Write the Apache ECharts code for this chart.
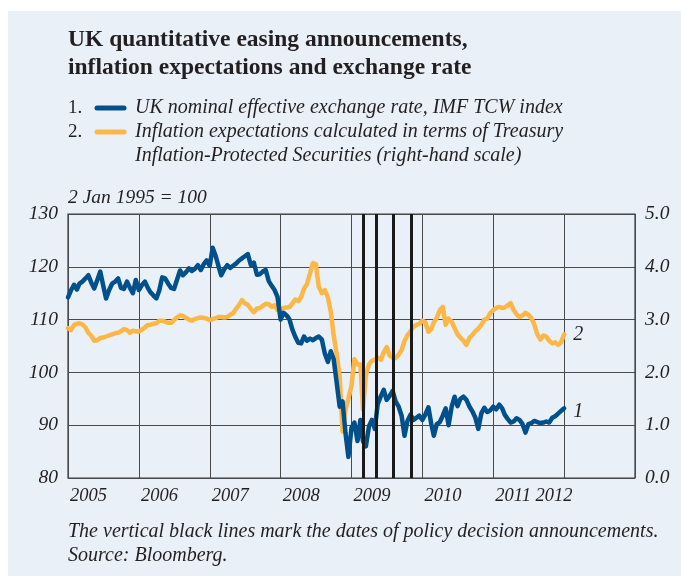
<!DOCTYPE html>
<html>
<head>
<meta charset="utf-8">
<script src="https://cdn.jsdelivr.net/npm/echarts@6/dist/echarts.min.js"></script>
<style>
  html, body { margin: 0; padding: 0; background: #ffffff; }
  #chart { width: 681px; height: 576px; }
</style>
</head>
<body>
<div id="chart"></div>
<script>
// Half-monthly observations starting 1 Jan 2005 (1st and 16th of each month)
const startYear = 2005;

// UK nominal effective exchange rate, IMF TCW index (2 Jan 1995 = 100)
const ukEER = [
  114.2, 115.5, 116.6, 115.7, 116.8, 117.2, 117.8, 118.4, 117.0, 115.9, 117.5, 119.1,
  116.5, 114.0, 115.6, 116.8, 117.2, 117.8, 116.0, 115.8, 117.2, 116.0, 115.0, 117.5,
  115.6, 116.5, 117.2, 116.0, 115.2, 114.6, 114.0, 115.5, 118.0, 117.8, 116.8, 116.0,
  115.8, 117.5, 119.3, 118.4, 119.0, 119.7, 119.2, 119.6, 120.3, 119.4, 120.5, 121.2,
  120.2, 123.6, 122.0, 120.0, 118.4, 119.5, 120.3, 119.8, 120.2, 120.6, 121.2, 121.6,
  122.0, 122.4, 120.3, 120.8, 118.5, 118.6, 119.1, 119.4, 117.3, 116.4, 115.6, 114.3,
  110.0, 111.3, 110.8, 110.0, 108.2, 106.8, 105.6, 105.5, 106.8, 106.0, 106.4, 106.1,
  106.5, 106.8, 106.2, 103.6, 102.0, 104.0, 102.5, 98.2, 93.5, 94.5, 88.5, 84.0,
  89.5, 90.5, 87.0, 91.0, 87.0, 86.0, 89.8, 91.0, 89.3, 94.0, 95.5, 96.7,
  94.8, 95.5, 96.5, 94.5, 93.5, 91.8, 88.0, 90.8, 92.0, 91.0, 91.4, 91.8,
  91.0, 92.0, 93.4, 90.2, 88.0, 90.2, 90.6, 91.8, 93.2, 90.0, 93.5, 95.4,
  93.6, 95.0, 95.4, 94.8, 93.5, 92.6, 91.4, 89.3, 92.3, 93.3, 92.5, 92.8,
  93.5, 93.0, 93.9, 93.2, 92.0, 91.2, 90.5, 90.7, 91.3, 91.0, 90.2, 88.6,
  90.2, 90.4, 90.8, 90.6, 90.4, 90.5, 90.7, 90.5, 91.4, 91.7, 92.2, 92.7,
  93.2
];

// Inflation expectations from Treasury Inflation-Protected Securities (per cent)
const tipsInflation = [
  2.84, 2.80, 2.90, 2.92, 2.93, 2.91, 2.85, 2.75, 2.69, 2.60, 2.61, 2.65,
  2.66, 2.68, 2.70, 2.72, 2.74, 2.75, 2.78, 2.82, 2.80, 2.75, 2.79, 2.78,
  2.77, 2.81, 2.85, 2.90, 2.90, 2.92, 2.93, 2.98, 2.98, 2.96, 2.94, 2.94,
  2.99, 3.04, 3.08, 3.07, 3.03, 3.00, 2.98, 3.01, 3.03, 3.04, 3.03, 3.02,
  2.99, 3.01, 3.03, 3.05, 3.05, 3.04, 3.05, 3.09, 3.12, 3.20, 3.28, 3.37,
  3.31, 3.28, 3.20, 3.14, 3.21, 3.22, 3.26, 3.30, 3.29, 3.24, 3.27, 3.18,
  3.21, 3.22, 3.23, 3.24, 3.30, 3.38, 3.35, 3.43, 3.59, 3.67, 3.88, 4.07,
  4.05, 3.62, 3.50, 3.56, 3.42, 3.15, 2.70, 2.36, 1.92, 0.88, 1.30, 1.50,
  1.75, 2.25, 2.15, 2.15, 1.30, 1.95, 2.15, 2.22, 2.24, 2.28, 2.24, 2.38,
  2.48, 2.32, 2.28, 2.27, 2.34, 2.42, 2.60, 2.70, 2.78, 2.86, 2.90, 2.92,
  2.98, 2.95, 2.77, 2.82, 2.95, 3.03, 3.18, 3.24, 2.90, 3.02, 2.96, 2.84,
  2.72, 2.66, 2.60, 2.52, 2.66, 2.71, 2.78, 2.83, 2.90, 3.00, 3.02, 3.12,
  3.18, 3.22, 3.24, 3.22, 3.23, 3.27, 3.31, 3.18, 3.10, 3.05, 3.08, 3.13,
  3.09, 3.03, 2.90, 2.72, 2.62, 2.70, 2.68, 2.60, 2.55, 2.57, 2.52, 2.57,
  2.72
];

// Bank of England policy decision announcements
const announcements = ['2009-03-05', '2009-05-07', '2009-08-06', '2009-11-05'];

// Year ticks on the horizontal axis
const yearTicks = [2005, 2006, 2007, 2008, 2009, 2010, 2011, 2012, 2013];
const leftTicks = [80, 90, 100, 110, 120, 130];
const rightTicks = [0, 1, 2, 3, 4, 5];

const BLUE = '#00508c';
const ORANGE = '#fdb747';
const INK = '#231f20';
const PANEL = '#e9f0f7';
const SERIF = '"Liberation Serif", "DejaVu Serif", serif';

function pad(n) { return n < 10 ? '0' + n : '' + n; }

// Observation dates: 1st and 16th of each month
const dates = ukEER.map((_, k) => {
  const y = startYear + Math.floor(k / 24);
  const m = Math.floor((k % 24) / 2) + 1;
  return y + '-' + pad(m) + '-' + (k % 2 ? '16' : '01');
});

// Date string -> fractional year
function toYear(s) {
  const [y, m, d] = s.split('-').map(Number);
  const start = Date.UTC(y, 0, 1), end = Date.UTC(y + 1, 0, 1);
  return y + (Date.UTC(y, m - 1, d) - start) / (end - start);
}

const eerData = dates.map((d, i) => [toYear(d), ukEER[i]]);
const tipsData = dates.map((d, i) => [toYear(d), tipsInflation[i]]);

const chart = echarts.init(document.getElementById('chart'), null, { renderer: 'canvas' });

function txt(x, y, text, opts) {
  return {
    type: 'text', x: x, y: y, silent: true,
    style: Object.assign({
      text: text, fill: INK, fontFamily: SERIF, fontSize: 20, fontStyle: 'italic',
      align: 'left', verticalAlign: 'middle'
    }, opts || {})
  };
}

const axisFont = { color: INK, fontFamily: SERIF, fontStyle: 'italic', fontSize: 19.5 };

const option = {
  animation: false,
  backgroundColor: '#ffffff',
  graphic: [
    { type: 'rect', z: -10, silent: true, shape: { x: 8, y: 11, width: 673, height: 565 }, style: { fill: PANEL } },
    txt(68, 40, 'UK quantitative easing announcements,', { fontStyle: 'normal', fontWeight: 'bold', fontSize: 23.5 }),
    txt(68, 68, 'inflation expectations and exchange rate', { fontStyle: 'normal', fontWeight: 'bold', fontSize: 23.5 }),
    txt(68, 108, '1.', { fontStyle: 'normal', fontSize: 19 }),
    { type: 'line', silent: true, shape: { x1: 97, y1: 108, x2: 124, y2: 108 }, style: { stroke: BLUE, lineWidth: 5, lineCap: 'round' } },
    txt(135, 108, 'UK nominal effective exchange rate, IMF TCW index'),
    txt(68, 132, '2.', { fontStyle: 'normal', fontSize: 19 }),
    { type: 'line', silent: true, shape: { x1: 97, y1: 132, x2: 124, y2: 132 }, style: { stroke: ORANGE, lineWidth: 5, lineCap: 'round' } },
    txt(135, 132, 'Inflation expectations calculated in terms of Treasury'),
    txt(135, 156, 'Inflation-Protected Securities (right-hand scale)'),
    txt(68, 198, '2 Jan 1995 = 100', { fontSize: 19.5 }),
    txt(68, 532, 'The vertical black lines mark the dates of policy decision announcements.'),
    txt(68, 556, 'Source: Bloomberg.')
  ],
  grid: {
    left: 68, top: 214, width: 567, height: 264,
    show: true, borderColor: '#3a3a3a', borderWidth: 1.2, backgroundColor: 'transparent'
  },
  xAxis: {
    type: 'value', min: yearTicks[0], max: yearTicks[yearTicks.length - 1], interval: 1,
    axisLine: { show: false }, axisTick: { show: false },
    splitLine: { show: true, lineStyle: { color: '#4a4a4a', width: 1 } },
    axisLabel: Object.assign({
      align: 'left', margin: 9, padding: [0, 0, 0, 2], fontSize: 18.5,
      formatter: v => v === 2011 ? '2011 2012' : (v <= 2010 ? String(v) : '')
    }, { color: INK, fontFamily: SERIF, fontStyle: 'italic' })
  },
  yAxis: [
    {
      type: 'value', min: leftTicks[0], max: leftTicks[leftTicks.length - 1], interval: 10,
      axisLine: { show: false }, axisTick: { show: false },
      splitLine: { show: true, lineStyle: { color: '#4a4a4a', width: 1 } },
      axisLabel: Object.assign({ margin: 10 }, axisFont)
    },
    {
      type: 'value', min: rightTicks[0], max: rightTicks[rightTicks.length - 1], interval: 1,
      axisLine: { show: false }, axisTick: { show: false }, splitLine: { show: false },
      axisLabel: Object.assign({ margin: 10, formatter: v => v.toFixed(1) }, axisFont)
    }
  ],
  series: [
    {
      // announcement markers
      name: 'announcements', type: 'line', data: [], z: 1, silent: true,
      markLine: {
        silent: true, symbol: 'none', animation: false,
        label: { show: false },
        lineStyle: { color: '#1a1a1a', width: 3, type: 'solid' },
        data: announcements.map(d => ({ xAxis: toYear(d) }))
      }
    },
    {
      name: 'TIPS inflation expectations', type: 'line', yAxisIndex: 1, data: tipsData, z: 3,
      showSymbol: false, silent: true,
      lineStyle: { color: ORANGE, width: 4.5, join: 'round', cap: 'round' },
      endLabel: { show: true, formatter: '2', distance: 9, color: INK, fontFamily: SERIF, fontStyle: 'italic', fontSize: 20 }
    },
    {
      name: 'UK NEER', type: 'line', yAxisIndex: 0, data: eerData, z: 4,
      showSymbol: false, silent: true,
      lineStyle: { color: BLUE, width: 4.5, join: 'round', cap: 'round' },
      endLabel: { show: true, formatter: '1', distance: 9, offset: [0, 3], color: INK, fontFamily: SERIF, fontStyle: 'italic', fontSize: 20 }
    }
  ]
};

chart.setOption(option);
</script>
</body>
</html>
